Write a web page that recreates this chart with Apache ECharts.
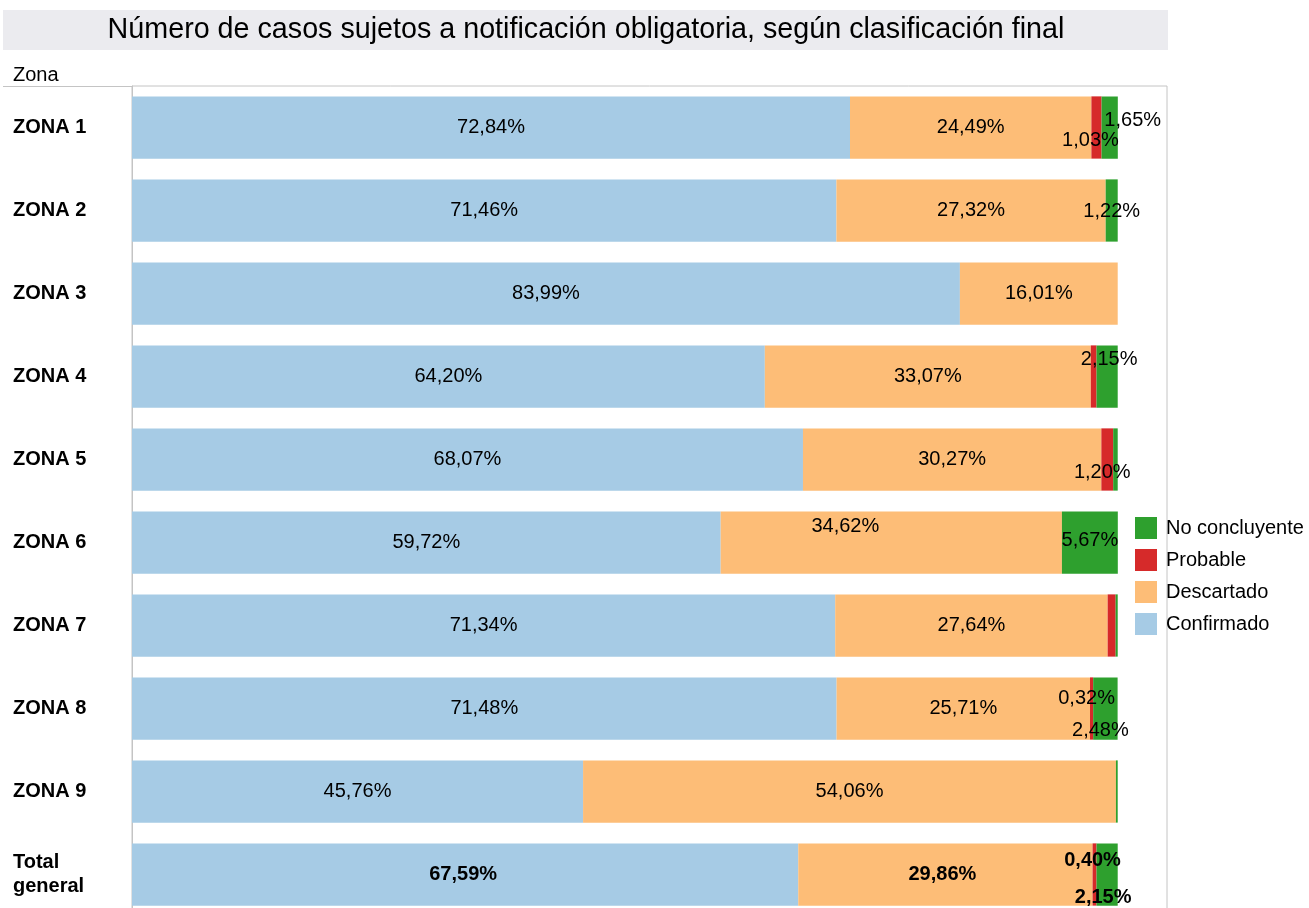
<!DOCTYPE html>
<html>
<head>
<meta charset="utf-8">
<script src="https://cdn.jsdelivr.net/npm/echarts@6/dist/echarts.min.js"></script>
<style>
html,body{margin:0;padding:0;background:#fff;overflow:hidden;width:1309px;height:908px;}
#chart{width:1309px;height:940px;}
</style>
</head>
<body>
<div id="chart"></div>
<script>
var titleText = 'Número de casos sujetos a notificación obligatoria, según clasificación final';
var axisTitle = 'Zona';
var categories = ['ZONA 1','ZONA 2','ZONA 3','ZONA 4','ZONA 5','ZONA 6','ZONA 7','ZONA 8','ZONA 9','Total\ngeneral'];
var seriesNames = ['Confirmado','Descartado','Probable','No concluyente'];
var confirmado    = [72.84, 71.46, 83.99, 64.20, 68.07, 59.72, 71.34, 71.48, 45.76, 67.59];
var descartado    = [24.49, 27.32, 16.01, 33.07, 30.27, 34.62, 27.64, 25.71, 54.06, 29.86];
var probable      = [1.03, 0, 0, 0.58, 1.20, 0, 0.81, 0.32, 0, 0.40];
var noConcluyente = [1.65, 1.22, 0, 2.15, 0.46, 5.67, 0.21, 2.48, 0.18, 2.15];

var colors = {
  'Confirmado': '#a6cbe5',
  'Descartado': '#fdbd77',
  'Probable': '#d62a2a',
  'No concluyente': '#2ea02e'
};

// label placement tweaks (offset in px from segment centre) and hidden labels
var labelOffsets = {
  'Confirmado': {9: [-2, 0]},
  'Descartado': {5: [-46, -16], 9: [-3, 0]},
  'Probable': {0: [-6, 13], 4: [-5, 13], 7: [-5, -10], 9: [-2, -14]},
  'No concluyente': {0: [23, -7], 1: [0, 1], 3: [2, -17], 5: [0, -2], 7: [-5, 22], 9: [-4, 23]}
};
var hiddenLabels = {
  'Probable': [3, 6],
  'No concluyente': [4, 6, 8]
};

var fontFam = '"Liberation Sans", Arial, sans-serif';
var lastIdx = categories.length - 1;

function fmt(v) { return v.toFixed(2).replace('.', ',') + '%'; }

function buildData(name, arr) {
  return arr.map(function (v, i) {
    var hidden = v === 0 || (hiddenLabels[name] && hiddenLabels[name].indexOf(i) >= 0);
    var lab = { show: !hidden };
    if (i === lastIdx) lab.fontWeight = 'bold';
    return { value: v, label: lab };
  });
}

var seriesArrays = {
  'Confirmado': confirmado,
  'Descartado': descartado,
  'Probable': probable,
  'No concluyente': noConcluyente
};

var series = seriesNames.map(function (name) {
  return {
    name: name,
    type: 'bar',
    stack: 'total',
    barCategoryGap: '25%',
    itemStyle: { color: colors[name] },
    label: {
      show: true,
      position: 'inside',
      color: '#000',
      fontSize: 20,
      fontFamily: fontFam,
      formatter: function (p) { return fmt(p.value); }
    },
    labelLayout: function (params) {
      var off = labelOffsets[name] && labelOffsets[name][params.dataIndex];
      if (!off) return {};
      return { dx: off[0], dy: off[1] };
    },
    emphasis: { disabled: true },
    data: buildData(name, seriesArrays[name])
  };
});

var chart = echarts.init(document.getElementById('chart'), null, { renderer: 'canvas' });
chart.setOption({
  animation: false,
  backgroundColor: '#fff',
  color: seriesNames.map(function (n) { return colors[n]; }),
  grid: {
    left: 132, top: 86, width: 1035, height: 830,
    show: true, borderColor: '#c4c4c4', borderWidth: 1, backgroundColor: 'transparent'
  },
  legend: {
    data: ['No concluyente', 'Probable', 'Descartado', 'Confirmado'],
    orient: 'vertical',
    left: 1135, top: 517,
    padding: 0,
    itemWidth: 22, itemHeight: 22, itemGap: 10,
    icon: 'rect',
    textStyle: { fontSize: 20, fontFamily: fontFam, color: '#000', padding: [0, 0, 0, 4] }
  },
  xAxis: {
    type: 'value', min: 0, max: 105, show: false
  },
  yAxis: {
    type: 'category',
    inverse: true,
    data: categories,
    axisLine: { show: true, lineStyle: { color: '#c4c4c4' } },
    axisTick: { show: false },
    splitLine: { show: false },
    axisLabel: {
      align: 'left', margin: 119, color: '#000', fontSize: 20, fontWeight: 'bold',
      fontFamily: fontFam, lineHeight: 24
    }
  },
  graphic: [
    { type: 'rect', shape: { x: 3, y: 10, width: 1165, height: 40 }, style: { fill: '#ebebef' }, silent: true, z: -1 },
    { type: 'text', x: 586, y: 30, style: { text: titleText, fill: '#000', font: '28.7px "Liberation Sans", Arial, sans-serif', textAlign: 'center', textVerticalAlign: 'middle' }, silent: true },
    { type: 'text', x: 13, y: 75, style: { text: axisTitle, fill: '#000', font: '20px "Liberation Sans", Arial, sans-serif', textAlign: 'left', textVerticalAlign: 'middle' }, silent: true },
    { type: 'line', shape: { x1: 3, y1: 86.5, x2: 132, y2: 86.5 }, style: { stroke: '#c4c4c4', lineWidth: 1 }, silent: true }
  ],
  series: series
});
</script>
</body>
</html>
